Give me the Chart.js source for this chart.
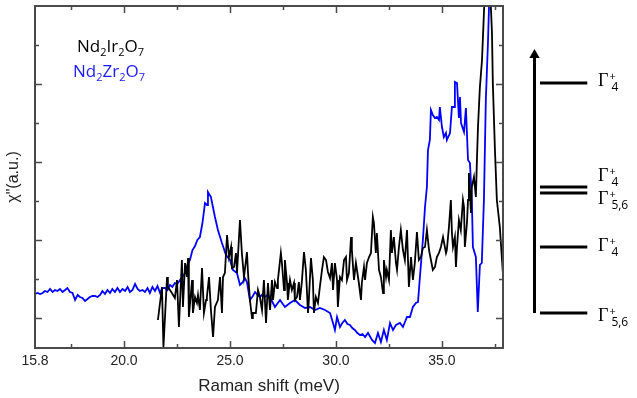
<!DOCTYPE html>
<html>
<head>
<meta charset="utf-8">
<script src="https://cdn.jsdelivr.net/npm/chart.js@4.4.0/dist/chart.umd.min.js"></script>
<style>
    html, body { margin: 0; padding: 0; background: #fff; }
    #wrap { position: relative; width: 637px; height: 398px; }
    #main { position: absolute; left: 0; top: 0; }
    #levels { position: absolute; left: 503px; top: 0; }
</style>
</head>
<body>
<div id="wrap">
    <canvas id="main" width="637" height="398"></canvas>
    <canvas id="levels" width="134" height="398"></canvas>
</div>
<script>
// Nd2Zr2O7 (mavi) - Raman kayması (meV) ve χ" (keyfi birim)
const zrShift = [15.80,15.92,16.04,16.16,16.27,16.39,16.51,16.63,16.74,16.86,16.98,
    17.10,17.22,17.33,17.45,17.57,17.69,17.81,17.92,18.04,18.16,
    18.28,18.39,18.51,18.63,18.75,18.87,18.98,19.10,19.22,19.34,
    19.45,19.57,19.69,19.81,19.93,20.05,20.17,20.28,20.40,20.52,
    20.64,20.75,20.87,20.99,21.11,21.22,21.34,21.46,21.58,21.70,
    21.82,21.93,22.05,22.17,22.28,22.40,22.52,22.64,22.76,22.88,
    22.99,23.11,23.23,23.35,23.46,23.58,23.70,23.82,23.92,23.96,
    24.10,24.29,24.43,24.62,24.81,25.00,25.14,25.33,25.47,25.61,
    25.70,25.80,25.94,26.08,26.18,26.30,26.41,26.55,26.65,26.77,
    26.91,27.05,27.12,27.36,27.59,27.83,28.06,28.30,28.54,28.77,
    29.01,29.24,29.48,29.72,29.86,29.95,30.05,30.19,30.30,30.42,
    30.54,30.66,30.77,30.89,31.01,31.13,31.25,31.37,31.51,31.70,
    31.84,31.98,32.12,32.26,32.40,32.55,32.69,32.83,33.02,33.16,
    33.35,33.49,33.63,33.77,33.87,33.96,34.10,34.20,34.29,34.34,
    34.43,34.48,34.57,34.67,34.76,34.86,34.90,35.00,35.09,35.19,
    35.23,35.38,35.47,35.57,35.61,35.71,35.80,35.85,35.90,36.04,
    36.13,36.23,36.32,36.41,36.46,36.60,36.69,36.79,36.88,36.98,
    37.07,37.17,37.26];
const zrChi = [54,55,54,55,57,56,59,56,58,57,59,
    56,58,60,56,55,48,53,51,50,47,
    49,51,52,52,51,53,57,54,58,55,
    59,56,60,56,59,57,61,56,58,64,
    59,57,58,56,60,55,61,57,62,55,
    60,60,58,63,61,65,64,68,71,75,
    83,88,98,102,108,111,125,145,143,156,
    151,131,118,105,93,88,78,75,63,66,
    70,66,48,52,56,53,51,54,51,53,
    50,44,41,48,41,45,48,43,40,41,
    38,40,38,35,25,18,31,21,25,28,
    24,23,20,18,15,13,14,11,15,8,
    5,15,6,18,8,25,18,23,25,21,
    31,31,41,45,46,71,108,141,161,198,
    208,238,233,230,231,228,241,221,211,215,
    208,215,241,241,266,265,230,251,225,216,
    240,188,185,148,101,91,36,83,85,148,
    248,305,370];

// Nd2Ir2O7 (siyah)
const irShift = [21.60,21.79,21.86,22.03,22.07,22.26,22.40,22.50,22.59,22.73,
    22.78,22.88,22.97,23.02,23.06,23.21,23.25,23.35,23.44,23.49,
    23.58,23.68,23.77,23.87,23.91,24.01,24.10,24.20,24.29,24.43,
    24.53,24.62,24.67,24.76,24.86,24.95,25.05,25.09,25.19,25.28,
    25.33,25.47,25.56,25.66,25.80,25.85,25.94,26.04,26.08,26.22,
    26.32,26.41,26.51,26.60,26.70,26.79,26.84,26.89,26.98,27.03,
    27.12,27.22,27.26,27.40,27.45,27.55,27.59,27.69,27.73,27.83,
    27.92,28.02,28.06,28.16,28.25,28.30,28.39,28.49,28.58,28.68,
    28.72,28.82,28.91,28.96,29.05,29.15,29.24,29.34,29.43,29.53,
    29.62,29.72,29.81,29.86,29.95,30.05,30.09,30.19,30.28,30.38,
    30.47,30.52,30.61,30.71,30.75,30.85,30.94,30.99,31.08,31.18,
    31.22,31.32,31.37,31.46,31.56,31.65,31.74,31.79,31.88,31.93,
    32.03,32.12,32.22,32.26,32.36,32.40,32.50,32.59,32.64,32.73,
    32.83,32.88,32.97,33.06,33.16,33.25,33.35,33.44,33.54,33.63,
    33.72,33.82,33.91,34.01,34.10,34.20,34.29,34.39,34.48,34.57,
    34.67,34.76,34.86,34.95,35.05,35.19,35.23,35.33,35.42,35.47,
    35.52,35.61,35.66,35.71,35.80,35.89,35.99,36.04,36.08,36.18,
    36.23,36.27,36.37,36.41,36.51,36.60,36.65,36.70,36.79,36.89,
    36.98,37.15,37.36,37.40,37.50,37.59,37.73,37.88];
const irChi = [28,61,1,71,61,55,50,68,21,88,
    41,85,71,90,31,68,35,51,45,53,
    38,80,35,48,51,71,38,11,41,48,
    71,35,71,75,113,91,101,80,81,95,
    75,128,95,71,96,75,48,30,35,35,
    58,51,38,68,25,65,51,38,68,48,
    66,60,68,95,85,58,88,65,48,68,
    58,65,48,51,66,48,66,96,78,35,
    48,90,68,35,51,45,61,78,91,88,
    76,70,85,58,85,68,41,71,68,88,
    91,68,75,111,98,68,85,78,65,48,
    65,81,68,85,91,95,131,125,95,115,
    78,71,55,88,71,78,68,118,95,111,
    85,78,101,118,98,88,118,61,91,68,
    85,116,88,91,100,101,118,98,88,78,
    81,91,95,101,111,95,98,121,148,115,
    101,111,81,101,128,118,148,141,101,125,
    148,175,135,161,171,151,188,221,261,288,
    335,420,315,265,198,148,121,73];

// Eksen tikleri
const xLabelTicks = [15.8, 20.0, 25.0, 30.0, 35.0];
const xMajorTicks = [20.0, 25.0, 30.0, 35.0];
const xMinorTicks = [17.5, 22.5, 27.5, 32.5, 37.5];
const yMajorTicks = [30, 108, 186, 264];
const yMinorTicks = [69, 147, 225, 303];

// Enerji seviyeleri (keyfi birim, en alttaki 0)
const levelEnergy = [0, 66, 120, 126, 230];
const levelSymbol = ['Γ', 'Γ', 'Γ', 'Γ', 'Γ'];
const levelSup = ['+', '+', '+', '+', '+'];
const levelSub = ['5,6', '4', '5,6', '4', '4'];
const arrowTop = 258;

// Lejant metinleri
const seriesNames = [
    [['Nd', 0], ['2', 1], ['Ir', 0], ['2', 1], ['O', 0], ['7', 1]],
    [['Nd', 0], ['2', 1], ['Zr', 0], ['2', 1], ['O', 0], ['7', 1]]
];
const seriesColors = ['#000000', '#1a1aff'];

const AXIS_COLOR = '#4a4a4a';

/**
 * Alt simgeli formül metnini çizer
 */
function drawFormula(ctx, parts, x, y, color) {
    ctx.fillStyle = color;
    ctx.textBaseline = 'alphabetic';
    ctx.textAlign = 'left';
    parts.forEach(([txt, sub]) => {
        ctx.font = sub ? '11px "Open Sans"' : '17px "Open Sans"';
        ctx.fillText(txt, x, sub ? y + 4 : y);
        x += ctx.measureText(txt).width;
    });
}

// Çerçeve, tikler, lejant ve y başlığı
const framePlugin = {
    id: 'frame',
    afterDraw(chart) {
        const ctx = chart.ctx;
        const a = chart.chartArea;
        const xs = chart.scales.x;
        const ys = chart.scales.y;
        ctx.save();
        ctx.strokeStyle = AXIS_COLOR;
        ctx.lineWidth = 2;
        ctx.strokeRect(a.left, a.top, a.right - a.left, a.bottom - a.top);

        ctx.lineWidth = 1.5;
        const xTick = (v, len) => {
            const px = Math.round(xs.getPixelForValue(v)) + 0.5;
            ctx.beginPath();
            ctx.moveTo(px, a.bottom); ctx.lineTo(px, a.bottom - len);
            ctx.moveTo(px, a.top); ctx.lineTo(px, a.top + len);
            ctx.stroke();
        };
        const yTick = (v, len) => {
            const py = Math.round(ys.getPixelForValue(v)) + 0.5;
            ctx.beginPath();
            ctx.moveTo(a.left, py); ctx.lineTo(a.left + len, py);
            ctx.moveTo(a.right, py); ctx.lineTo(a.right - len, py);
            ctx.stroke();
        };
        xMajorTicks.forEach(v => xTick(v, 7));
        xMinorTicks.forEach(v => xTick(v, 4));
        yMajorTicks.forEach(v => yTick(v, 7));
        yMinorTicks.forEach(v => yTick(v, 4));

        // Lejant
        drawFormula(ctx, seriesNames[0], 77, 52, seriesColors[0]);
        drawFormula(ctx, seriesNames[1], 73, 77, seriesColors[1]);

        // Y ekseni başlığı
        ctx.translate(18, (a.top + a.bottom) / 2);
        ctx.rotate(-Math.PI / 2);
        ctx.fillStyle = '#222';
        ctx.font = '16px "Liberation Sans"';
        ctx.textAlign = 'center';
        ctx.textBaseline = 'alphabetic';
        ctx.fillText('χ"(a.u.)', 0, 0);
        ctx.restore();
    }
};

const mainChart = new Chart(document.getElementById('main'), {
    type: 'line',
    data: {
        datasets: [
            {
                label: 'Nd2Ir2O7',
                data: irShift.map((x, i) => ({ x: x, y: irChi[i] })),
                borderColor: '#000000',
                borderWidth: 1.8,
                pointRadius: 0,
                tension: 0
            },
            {
                label: 'Nd2Zr2O7',
                data: zrShift.map((x, i) => ({ x: x, y: zrChi[i] })),
                borderColor: '#0000ff',
                borderWidth: 1.8,
                pointRadius: 0,
                tension: 0
            }
        ]
    },
    options: {
        responsive: false,
        animation: false,
        layout: { padding: { left: 35, right: 134, top: 6, bottom: 0 } },
        plugins: { legend: { display: false }, tooltip: { enabled: false } },
        scales: {
            x: {
                type: 'linear',
                min: 15.8,
                max: 37.88,
                afterBuildTicks: s => { s.ticks = xLabelTicks.map(v => ({ value: v })); },
                afterFit: s => { s.height = 50; },
                grid: { display: false, drawTicks: false },
                border: { display: false },
                ticks: {
                    callback: v => Number(v).toFixed(1),
                    font: { family: 'Liberation Sans', size: 14 },
                    color: '#222',
                    padding: 5,
                    maxRotation: 0,
                    autoSkip: false
                },
                title: {
                    display: true,
                    text: 'Raman shift (meV)',
                    font: { family: 'Liberation Sans', size: 17 },
                    color: '#222',
                    padding: { top: 2, bottom: 1 }
                }
            },
            y: { display: false, min: 0, max: 342 }
        }
    },
    plugins: [framePlugin]
});

// Seviye etiketleri (Γ⁺ alt simgeli)
const levelLabelDy = [2, -2, 5, -12, -3];
const levelLabelPlugin = {
    id: 'levelLabels',
    afterDraw(chart) {
        const ctx = chart.ctx;
        const ys = chart.scales.y;
        ctx.save();
        ctx.fillStyle = '#000';
        ctx.textAlign = 'left';
        ctx.textBaseline = 'alphabetic';
        levelEnergy.forEach((e, i) => {
            const cy = ys.getPixelForValue(e) + levelLabelDy[i];
            const base = cy + 6;
            const x0 = 95;
            ctx.font = '18px "Liberation Serif"';
            ctx.fillText(levelSymbol[i], x0, base);
            const x1 = x0 + ctx.measureText(levelSymbol[i]).width + 1;
            ctx.font = '11px "Open Sans"';
            ctx.fillText(levelSup[i], x1, base - 6);
            ctx.font = '12px "Open Sans"';
            ctx.fillText(levelSub[i], x1 + 2, base + 5);
        });
        ctx.restore();
    }
};

const levelDatasets = levelEnergy.map(e => ({
    data: [{ x: 34, y: e }, { x: 86, y: e }],
    borderColor: '#000',
    borderWidth: 3,
    borderCapStyle: 'butt',
    pointRadius: 0,
    clip: false
}));
levelDatasets.push({
    data: [{ x: 28, y: 0 }, { x: 28, y: arrowTop }],
    borderColor: '#000',
    borderWidth: 3,
    borderCapStyle: 'butt',
    pointStyle: 'triangle',
    pointRadius: [0, 6],
    pointBackgroundColor: '#000',
    pointBorderColor: '#000',
    pointBorderWidth: 0,
    clip: false
});

const levelChart = new Chart(document.getElementById('levels'), {
    type: 'line',
    data: { datasets: levelDatasets },
    options: {
        responsive: false,
        animation: false,
        layout: { padding: { left: 0, right: 0, top: 6, bottom: 50 } },
        plugins: { legend: { display: false }, tooltip: { enabled: false } },
        scales: {
            x: { type: 'linear', display: false, min: 0, max: 134 },
            y: { type: 'linear', display: false, min: -35, max: 307 }
        }
    },
    plugins: [levelLabelPlugin]
});
</script>
</body>
</html>
